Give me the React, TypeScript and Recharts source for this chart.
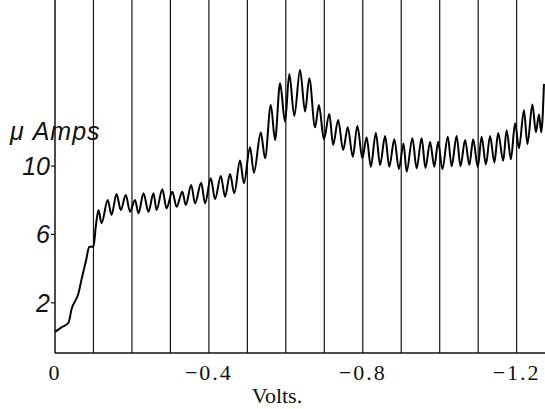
import React from "react";
import { LineChart, Line, XAxis, YAxis, ReferenceLine } from "recharts";

// Electrode potential (V) and current (µA)
const volts = [
  0, -0.017, -0.035, -0.043, -0.061, -0.069, -0.081, -0.089, -0.1, -0.106, -0.113,
  -0.121, -0.137, -0.147, -0.16, -0.171, -0.184, -0.195, -0.208, -0.217, -0.23, -0.243,
  -0.256, -0.264, -0.279, -0.29, -0.305, -0.316, -0.331, -0.34, -0.354, -0.364, -0.38,
  -0.39, -0.405, -0.416, -0.431, -0.442, -0.455, -0.466, -0.481, -0.491, -0.507, -0.517,
  -0.535, -0.546, -0.561, -0.572, -0.585, -0.598, -0.609, -0.622, -0.637, -0.65, -0.661,
  -0.676, -0.686, -0.699, -0.713, -0.723, -0.736, -0.749, -0.761, -0.774, -0.786, -0.799,
  -0.81, -0.821, -0.834, -0.845, -0.858, -0.869, -0.882, -0.894, -0.906, -0.914, -0.929,
  -0.94, -0.953, -0.963, -0.975, -0.986, -0.996, -1.007, -1.021, -1.031, -1.044, -1.054,
  -1.066, -1.077, -1.087, -1.099, -1.109, -1.12, -1.131, -1.142, -1.152, -1.165, -1.174,
  -1.185, -1.196, -1.206, -1.219, -1.228, -1.241, -1.25, -1.258, -1.264, -1.271,
];

const current = [
  0.3, 0.56, 0.83, 1.62, 2.55, 3.37, 4.5, 5.28, 5.28, 6.45, 7.43,
  6.65, 8.02, 7.14, 8.37, 7.43, 8.31, 7.33, 8.02, 7.24, 8.41, 7.33,
  8.41, 7.43, 8.64, 7.53, 8.5, 7.62, 8.5, 7.72, 8.89, 7.82, 9.03,
  7.82, 9.29, 8.06, 9.42, 8.21, 9.54, 8.41, 10.32, 8.99, 11.1, 9.61,
  11.96, 10.46, 13.58, 11.53, 14.85, 12.6, 15.39, 12.93, 15.63, 13.19, 15.14,
  12.27, 13.58, 11.57, 13.05, 11.24, 12.7, 10.94, 12.27, 10.55, 12.35, 10.46,
  11.69, 9.96, 11.94, 10.06, 11.76, 9.96, 11.57, 9.83, 11.32, 9.67, 11.63,
  9.87, 11.63, 9.89, 11.41, 9.96, 11.43, 9.81, 11.72, 9.99, 11.76, 9.99,
  11.53, 10.06, 11.57, 9.95, 11.72, 10.09, 11.76, 10.21, 11.94, 10.31, 12.1,
  10.4, 12.51, 11.04, 13.27, 11.29, 13.61, 11.98, 13.02, 11.97, 14.81,
];

const xTicks = [0, -0.4, -0.8, -1.2];
const yTicks = [2, 6, 10];
const gridVolts = [-0.1, -0.2, -0.3, -0.4, -0.5, -0.6, -0.7, -0.8, -0.9, -1.0, -1.1, -1.2];

const data = volts.map((v, i) => ({ v, i: current[i] }));

const fmtX = (v: number) => (v === 0 ? "0" : "\u2212" + Math.abs(v).toFixed(1));

export default function App() {
  return (
    <div style={{ position: "absolute", left: 0, top: 0, width: 545, height: 409, background: "#fff" }}>
      <LineChart width={545} height={409} data={data} margin={{ top: 0, right: 0, bottom: 0, left: 0 }}>
        <XAxis
          dataKey="v"
          type="number"
          domain={[-1.2737, 0]}
          reversed
          allowDataOverflow
          ticks={xTicks}
          tickFormatter={fmtX}
          height={56}
          tickLine={false}
          tickSize={0}
          tickMargin={11}
          axisLine={{ stroke: "#111", strokeWidth: 1.5 }}
          tick={{ fill: "#111", fontSize: 22, fontFamily: "Liberation Serif", letterSpacing: 2 }}
        />
        <YAxis
          type="number"
          domain={[-0.94, 19.72]}
          allowDataOverflow
          ticks={yTicks}
          width={55}
          tickSize={4}
          tickMargin={1}
          tickLine={{ stroke: "#111", strokeWidth: 1.2 }}
          axisLine={{ stroke: "#111", strokeWidth: 1.5 }}
          tick={{ fill: "#111", fontSize: 25, fontStyle: "italic", fontFamily: "Liberation Sans" }}
        />
        {gridVolts.map((g) => (
          <ReferenceLine key={g} x={g} stroke="#151515" strokeWidth={1.2} ifOverflow="visible" />
        ))}
        <Line
          type="monotone"
          dataKey="i"
          stroke="#000"
          strokeWidth={2}
          dot={false}
          isAnimationActive={false}
        />
      </LineChart>
      <svg width={545} height={409} style={{ position: "absolute", left: 0, top: 0, pointerEvents: "none" }}>
        <text x={10} y={140} fontFamily="Liberation Sans" fontStyle="italic" fontSize={25} letterSpacing={1} fill="#111">
          μ Amps
        </text>
        <text x={277} y={403} textAnchor="middle" fontFamily="Liberation Serif" fontSize={22} fill="#111">
          Volts.
        </text>
      </svg>
    </div>
  );
}
